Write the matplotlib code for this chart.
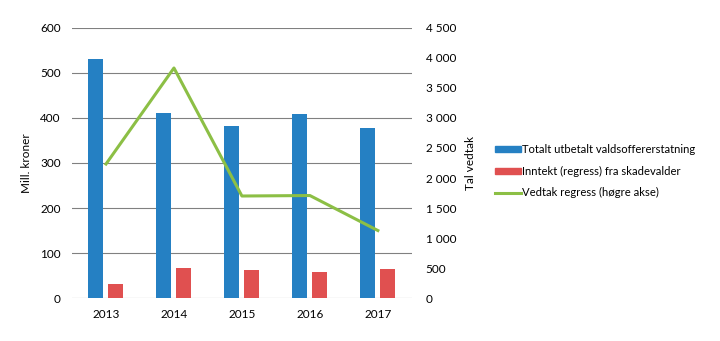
import matplotlib.pyplot as plt
import numpy as np
from matplotlib.patches import Patch
from matplotlib.lines import Line2D

plt.rcParams['font.family'] = ['Lato', 'DejaVu Sans']
plt.rcParams['font.size'] = 8.5

years = ['2013', '2014', '2015', '2016', '2017']
totalt = [531, 412, 382, 409, 378]
inntekt = [31, 66, 62, 58, 64]
vedtak = [2233, 3833, 1700, 1708, 1125]

blue = '#2580c3'
red = '#e05050'
green = '#8cbf45'

fig = plt.figure(figsize=(7.2, 3.41), dpi=100)
ax = fig.add_axes([0.1, 0.126, 0.472, 0.792])
x = np.arange(len(years))
w = 0.22
ax.bar(x - 0.155, totalt, w, color=blue, zorder=3)
ax.bar(x + 0.145, inntekt, w, color=red, zorder=3)
ax.set_ylim(0, 600)
ax.set_xlim(-0.5, 4.5)
ax.set_yticks(range(0, 601, 100))
ax.set_xticks(x)
ax.set_xticklabels(years)
ax.grid(axis='y', color='#808080', linewidth=0.8, zorder=0)
for s in ax.spines.values():
    s.set_visible(False)
ax.tick_params(length=0, pad=8)
ax.set_ylabel('Mill. kroner', labelpad=6)

ax2 = ax.twinx()
ax2.plot(x, vedtak, color=green, linewidth=2.2, zorder=4)
ax2.set_ylim(0, 4500)
ax2.set_yticks(range(0, 4501, 500))
ax2.set_yticklabels([f'{v:,}'.replace(',', ' ') for v in range(0, 4501, 500)])
for s in ax2.spines.values():
    s.set_visible(False)
ax2.tick_params(length=0, pad=10)
ax2.set_ylabel('Tal vedtak', labelpad=6)

handles = [Patch(color=blue), Patch(color=red), Line2D([], [], color=green, linewidth=2.2)]
labels = ['Totalt utbetalt valdsoffererstatning', 'Inntekt (regress) fra skadevalder',
          'Vedtak regress (høgre akse)']
fig.legend(handles, labels, loc='center left', bbox_to_anchor=(0.673, 0.498), frameon=False,
           handlelength=2.3, handleheight=0.4, handletextpad=0.1, labelspacing=0.95, fontsize=8.1)

fig.savefig('out.png', dpi=100)
